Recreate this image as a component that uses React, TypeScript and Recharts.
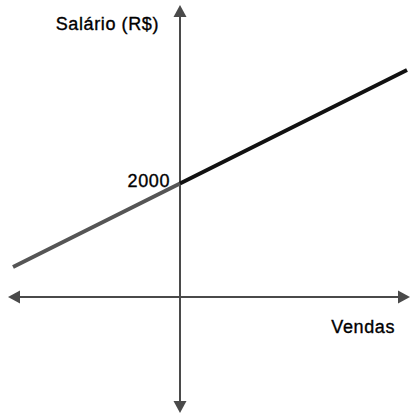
import React from 'react';
import { LineChart, Line, XAxis, YAxis, ReferenceLine, ReferenceDot, Label } from 'recharts';

// vendas (sem unidade) e salário (R$) nos três pontos da reta
const vendas = [-167, 0, 227];
const salarioAntes = [530, 2000, null];
const salarioDepois = [null, 2000, 4000];
const salarioFixo = 2000;

const yLabel = 'Salário (R$)';
const xLabel = 'Vendas';

const data = vendas.map((v, i) => ({
    vendas: v,
    antes: salarioAntes[i],
    depois: salarioDepois[i],
}));

const AXIS_COLOR = '#4a4a4a';
const FONT = 'Arial, "Liberation Sans", sans-serif';
const textStyle = {
    fontFamily: FONT,
    fontSize: 18,
    fill: '#000',
    stroke: '#000',
    strokeWidth: 0.35,
    letterSpacing: 0.6,
};

// eixo com seta nas duas pontas
const ArrowAxis = (props: any) => {
    const { x1, y1, x2, y2 } = props;
    const len = 12;
    const half = 6.5;
    const dx = x2 - x1;
    const dy = y2 - y1;
    const d = Math.sqrt(dx * dx + dy * dy) || 1;
    const ux = dx / d;
    const uy = dy / d;
    const head = (tx: number, ty: number, sx: number, sy: number) => {
        const bx = tx - sx * len;
        const by = ty - sy * len;
        return `${tx},${ty} ${bx - sy * half},${by + sx * half} ${bx + sy * half},${by - sx * half}`;
    };
    return (
        <g>
            <line
                x1={x1 + ux * len}
                y1={y1 + uy * len}
                x2={x2 - ux * len}
                y2={y2 - uy * len}
                stroke={AXIS_COLOR}
                strokeWidth={2}
            />
            <polygon points={head(x1, y1, -ux, -uy)} fill={AXIS_COLOR} />
            <polygon points={head(x2, y2, ux, uy)} fill={AXIS_COLOR} />
        </g>
    );
};

const App: React.FC = () => {
    return (
        <div style={{ position: 'absolute', left: 0, top: 0, width: 411, height: 416, background: '#fff' }}>
            <LineChart width={411} height={416} data={data} margin={{ top: 5, right: 1, bottom: 3, left: 8 }}>
                <XAxis type="number" dataKey="vendas" domain={[-172, 230]} allowDataOverflow hide />
                <YAxis type="number" domain={[-2044, 5145]} allowDataOverflow hide />
                <ReferenceLine x={0} shape={ArrowAxis}>
                    <Label
                        content={(p: any) => (
                            <text x={p.viewBox.x - 21} y={p.viewBox.y + 25} textAnchor="end" style={textStyle}>
                                {yLabel}
                            </text>
                        )}
                    />
                </ReferenceLine>
                <ReferenceLine y={0} shape={ArrowAxis}>
                    <Label
                        content={(p: any) => (
                            <text
                                x={p.viewBox.x + p.viewBox.width - 15}
                                y={p.viewBox.y + 36}
                                textAnchor="end"
                                style={textStyle}
                            >
                                {xLabel}
                            </text>
                        )}
                    />
                </ReferenceLine>
                <Line
                    dataKey="antes"
                    type="linear"
                    stroke="#555555"
                    strokeWidth={4}
                    dot={false}
                    activeDot={false}
                    isAnimationActive={false}
                />
                <Line
                    dataKey="depois"
                    type="linear"
                    stroke="#111111"
                    strokeWidth={4}
                    dot={false}
                    activeDot={false}
                    isAnimationActive={false}
                />
                <ReferenceDot x={0} y={salarioFixo} r={0} fill="none" stroke="none">
                    <Label
                        content={(p: any) => (
                            <text
                                x={p.viewBox.x + p.viewBox.width / 2 - 10}
                                y={p.viewBox.y + p.viewBox.height / 2 + 4}
                                textAnchor="end"
                                style={textStyle}
                            >
                                {String(salarioFixo)}
                            </text>
                        )}
                    />
                </ReferenceDot>
            </LineChart>
        </div>
    );
};

export default App;
